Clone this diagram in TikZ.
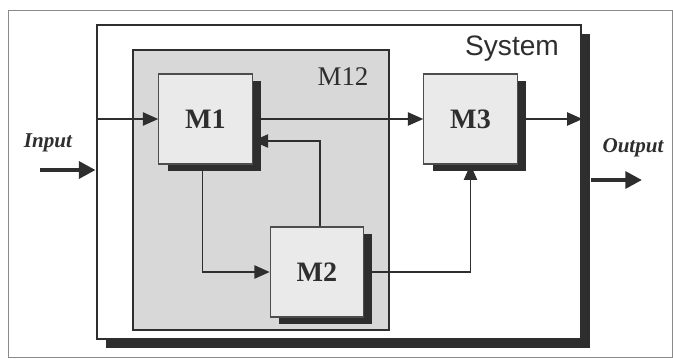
\documentclass[tikz,border=0pt]{standalone}
\usepackage{fontspec}
\setmainfont{Liberation Serif}
\setsansfont{Liberation Sans}
\usetikzlibrary{arrows.meta,positioning,calc,shadows}
\definecolor{ink}{HTML}{2E2E2E}
\definecolor{stone}{HTML}{D8D8D8}
\definecolor{paper}{HTML}{EAEAEA}
\definecolor{frame}{HTML}{8A8A8A}

\begin{document}
\begin{tikzpicture}[
  x=0.03cm, y=-0.03cm, font=\rmfamily, text=ink,
  module/.style={draw=ink!85,fill=paper,line width=1.1pt,minimum width=2.8cm,minimum height=2.7cm,
    font=\fontsize{24}{28}\selectfont\bfseries,
    drop shadow={shadow xshift=.26cm,shadow yshift=-.2cm,fill=ink,opacity=1}},
  flow/.style={-{Triangle[length=4.6mm,width=4mm]},draw=ink,line width=1.2pt},
  bigflow/.style={-{Triangle[length=5mm,width=5mm]},draw=ink,line width=4.2pt},
  portlabel/.style={font=\fontsize{18}{22}\selectfont\bfseries\itshape},
]
\useasboundingbox (0,0) rectangle (673,358);
\draw[frame,line width=.6pt] (8,10) rectangle (672,357);

\node[draw=ink,fill=white,line width=2.4pt,minimum width=14.52cm,minimum height=9.42cm,
  drop shadow={shadow xshift=.26cm,shadow yshift=-.26cm,fill=ink,opacity=1}] (system) at (339,182) {};
\node[font=\sffamily\fontsize{24}{28}\selectfont] (systemlabel) at (512,49) {System};

\node[draw=ink,fill=stone,line width=1.6pt,minimum width=7.68cm,minimum height=8.4cm] (m12) at (261,190) {};
\node[font=\fontsize{23}{27}\selectfont] (m12label) at (343,77) {M12};

\node[module] (m1) at (205.5,119) {M1};
\node[module] (m3) at (470.5,119) {M3};
\node[module] (m2) at (317,272) {M2};

\coordinate (in) at (40,170);
\coordinate (out) at (642,180);
\node[portlabel] (inputlabel) at (48,143) {Input};
\node[portlabel] (outputlabel) at (633,148) {Output};

\draw[bigflow] (in) -- (in -| system.west);
\draw[flow] (m1.west -| system.west) -- (m1.west);
\draw[flow] (m1) -- (m3);
\draw[flow] ($(m2.north)+(3,0)$) |- ($(m1.east)+(0,22)$);
\draw[flow] ($(m1.south)+(-3,0)$) |- (m2.west);
\draw[flow] (m2.east) -| (m3.south);
\draw[flow] (m3) -- (m3 -| system.east);
\draw[bigflow] (out -| system.east) ++(9,0) -- (out);
\end{tikzpicture}
\end{document}
